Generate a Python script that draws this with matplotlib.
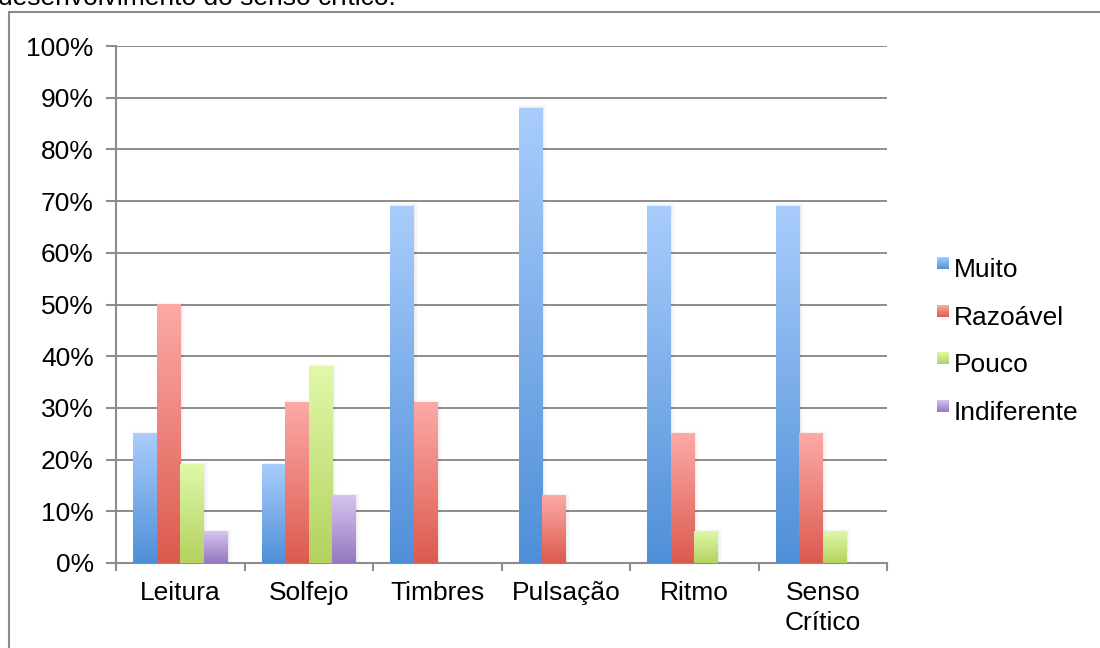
import numpy as np
import matplotlib.pyplot as plt
from matplotlib.colors import LinearSegmentedColormap
from matplotlib.patches import Rectangle
from matplotlib.ticker import PercentFormatter

plt.rcParams['font.family'] = ['Liberation Sans', 'DejaVu Sans']

categories = ["Leitura", "Solfejo", "Timbres", "Pulsação", "Ritmo", "Senso\nCrítico"]
series = ["Muito", "Razoável", "Pouco", "Indiferente"]
muito = [25, 19, 69, 88, 69, 69]
razoavel = [50, 31, 31, 13, 25, 25]
pouco = [19, 38, 0, 0, 6, 6]
indiferente = [6, 13, 0, 0, 0, 0]

# light at the top of each bar, darker at the base
top_colors = ["#a9cdfc", "#fcaaa7", "#e0f8a9", "#d6c4ef"]
bottom_colors = ["#4f8fd8", "#dc5a4e", "#b3d25f", "#9578c0"]

grid_color = "#8c8c8c"
W, H = 1100, 648
fs = 19
fig = plt.figure(figsize=(11, 6.48), dpi=100)
ax = fig.add_axes([116 / W, 1 - 563 / H, (887 - 116) / W, (563 - 46) / H])

values = [muito, razoavel, pouco, indiferente]
width = 0.183
x = np.arange(len(categories))
grad = np.linspace(0, 1, 256).reshape(-1, 1)

for j, vals in enumerate(values):
    cmap = LinearSegmentedColormap.from_list(series[j], [bottom_colors[j], top_colors[j]])
    pos = x + (j - 1.5) * width
    bars = ax.bar(pos, np.array(vals) / 100, width, color="none", zorder=3)
    for b in bars:
        h = b.get_height()
        if h <= 0:
            continue
        x0 = b.get_x()
        # faint shadow spilling to the right of the bar
        for k, a in enumerate([0.035, 0.025, 0.015]):
            d = 0.012 * (k + 1)
            ax.add_patch(Rectangle((x0, 0), width + d, h + d * 0.15,
                                   color="black", alpha=a, lw=0, zorder=2))
        ax.imshow(grad, cmap=cmap, origin="lower", aspect="auto",
                  extent=(x0, x0 + width, 0, h), zorder=4)

ax.set_xlim(-0.5, len(categories) - 0.5)
ax.set_ylim(0, 1)
ax.set_yticks(np.arange(0, 1.01, 0.1))
ax.yaxis.set_major_formatter(PercentFormatter(1.0, decimals=0))
ax.set_xticks(x)
ax.set_xticklabels(categories, linespacing=1.3)
ax.set_xticks(np.arange(-0.5, len(categories)), minor=True)
ax.tick_params(axis="x", which="major", length=0, pad=13, labelsize=fs)
ax.tick_params(axis="x", which="minor", length=6, width=1.5, color=grid_color)
ax.tick_params(axis="y", length=7, width=1.5, color=grid_color, pad=9, labelsize=fs)
ax.grid(axis="y", color=grid_color, lw=1.4, zorder=1)
ax.set_axisbelow(True)
for s in ["top", "right"]:
    ax.spines[s].set_visible(False)
for s in ["left", "bottom"]:
    ax.spines[s].set_color(grid_color)
    ax.spines[s].set_linewidth(1.5)

# legend drawn by hand so the swatches keep the gradient
for j, name in enumerate(series):
    bottom_px = 269 + j * 47.7
    sw = fig.add_axes([937 / W, 1 - bottom_px / H, 12 / W, 12 / H])
    cmap = LinearSegmentedColormap.from_list(name, [bottom_colors[j], top_colors[j]])
    sw.imshow(grad, cmap=cmap, origin="lower", aspect="auto")
    sw.axis("off")
    fig.text(954 / W, 1 - (bottom_px + 8) / H, name, fontsize=fs, va="baseline")

# chart frame and the caption line above it
fig.patches.append(Rectangle((9 / W, -0.1), 1.2, 1.1 - 12 / H, transform=fig.transFigure,
                             fill=False, edgecolor=grid_color, lw=1.5))
fig.text(-0.002, 1 - 5 / H, "desenvolvimento do senso crítico.", fontsize=fs, va="baseline")

fig.savefig("out.png", dpi=100)
